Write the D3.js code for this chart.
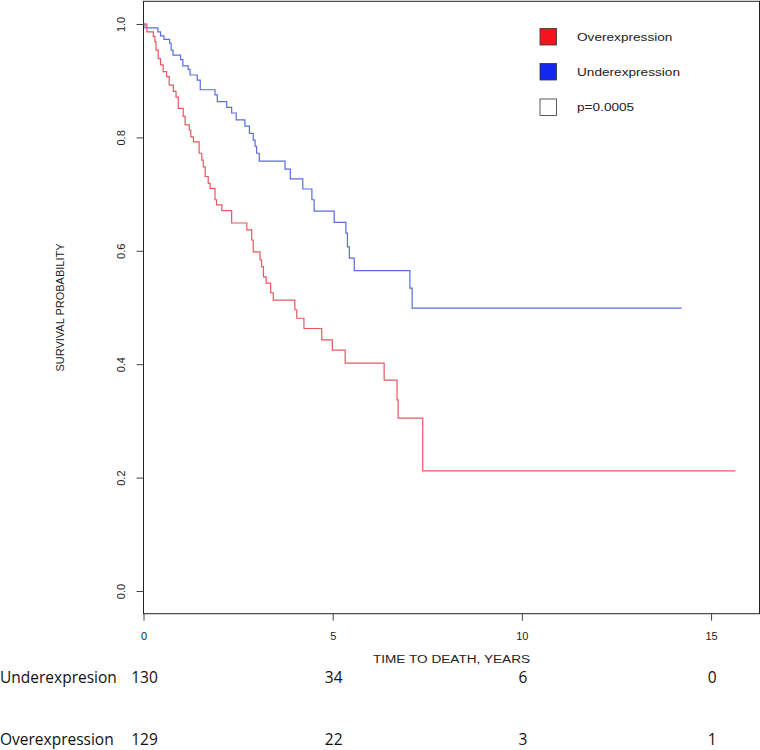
<!DOCTYPE html>
<html>
<head>
<meta charset="utf-8">
<script src="https://cdn.jsdelivr.net/npm/d3@7"></script>
<style>
  html, body { margin: 0; padding: 0; background: #fff; }
  svg { display: block; }
</style>
</head>
<body>
<svg id="chart" width="760" height="750"></svg>
<script>
// ---------- DATA ----------
// Underexpression group: event times (years) and survival after each step
const underTimes = [0.04, 0.38, 0.45, 0.54, 0.69, 0.73, 0.78, 0.98, 1.04, 1.18, 1.23, 1.42, 1.50, 1.89, 1.95, 2.20, 2.33, 2.45, 2.68, 2.80, 2.90, 2.95, 2.99, 3.06, 3.74, 3.88, 4.21, 4.45, 4.51, 5.04, 5.35, 5.39, 5.44, 5.57, 7.04, 7.10];
const underSurv  = [0.993, 0.986, 0.979, 0.973, 0.966, 0.954, 0.945, 0.937, 0.926, 0.920, 0.910, 0.901, 0.884, 0.875, 0.863, 0.853, 0.843, 0.831, 0.820, 0.807, 0.795, 0.784, 0.772, 0.758, 0.744, 0.727, 0.709, 0.690, 0.670, 0.650, 0.631, 0.607, 0.587, 0.565, 0.534, 0.499];
const underEnd = 14.22;

// Overexpression group
const overTimes = [0.09, 0.26, 0.30, 0.33, 0.39, 0.45, 0.52, 0.61, 0.68, 0.79, 0.86, 0.92, 1.05, 1.10, 1.21, 1.25, 1.32, 1.47, 1.54, 1.58, 1.63, 1.71, 1.76, 1.89, 1.93, 2.07, 2.33, 2.73, 2.86, 2.90, 3.08, 3.12, 3.17, 3.24, 3.36, 3.43, 4.00, 4.05, 4.24, 4.71, 4.99, 5.33, 6.36, 6.70, 6.73, 7.38];
const overSurv  = [0.986, 0.978, 0.969, 0.954, 0.939, 0.928, 0.916, 0.907, 0.892, 0.881, 0.871, 0.851, 0.837, 0.822, 0.813, 0.801, 0.792, 0.772, 0.760, 0.748, 0.731, 0.719, 0.710, 0.690, 0.681, 0.671, 0.649, 0.637, 0.619, 0.598, 0.584, 0.572, 0.554, 0.543, 0.526, 0.513, 0.496, 0.481, 0.463, 0.443, 0.425, 0.402, 0.372, 0.337, 0.305, 0.212];
const overEnd = 15.64;

const xTicks = [0, 5, 10, 15];
const yTicks = [0, 0.2, 0.4, 0.6, 0.8, 1.0];
const riskTimes = [0, 5, 10, 15];
const riskUnder = [130, 34, 6, 0];
const riskOver  = [129, 22, 3, 1];
const legendLabels = ["Overexpression", "Underexpression", "p=0.0005"];

// ---------- LAYOUT ----------
const svg = d3.select("#chart");
const L = 143.5, R = 759.5, T = 1.3, B = 613.7;
const x = d3.scaleLinear().domain([0, 16.28]).range([L, R]);
const y = d3.scaleLinear().domain([-0.04, 1.04]).range([B, T]);
const axisFont = "'Liberation Sans', Arial, Helvetica, sans-serif";
const tableFont = "'Open Sans', 'Noto Sans', sans-serif";
const stretch = 1.24; // reference text is widened horizontally

// Box
svg.append("rect")
  .attr("x", L).attr("y", T).attr("width", R - L).attr("height", B - T)
  .attr("fill", "none").attr("stroke", "#222").attr("stroke-width", 1);

// Y axis
const yAxis = d3.axisLeft(y).tickValues(yTicks).tickFormat(d3.format(".1f")).tickSize(7).tickPadding(4);
const gy = svg.append("g").attr("transform", `translate(${L},0)`).call(yAxis);
gy.select(".domain").remove();
gy.selectAll(".tick line").attr("stroke", "#444");
gy.selectAll(".tick text")
  .attr("font-family", axisFont).attr("font-size", 11).attr("fill", "#222")
  .attr("x", 0).attr("y", 0).attr("dy", "0.35em").attr("text-anchor", "middle")
  .attr("transform", `translate(-22,0) rotate(-90)`);

// X axis
const xAxis = d3.axisBottom(x).tickValues(xTicks).tickFormat(d3.format("d")).tickSize(7).tickPadding(12);
const gx = svg.append("g").attr("transform", `translate(0,${B})`).call(xAxis);
gx.select(".domain").remove();
gx.selectAll(".tick line").attr("stroke", "#444");
gx.selectAll(".tick text").attr("font-family", axisFont).attr("font-size", 11).attr("fill", "#222");

// Axis titles
svg.append("text")
  .attr("transform", `translate(${(L + R) / 2},659) scale(${stretch},1)`)
  .attr("dy", "0.35em")
  .attr("text-anchor", "middle").attr("font-family", axisFont).attr("font-size", 11).attr("fill", "#222")
  .text("TIME TO DEATH, YEARS");
svg.append("text")
  .attr("transform", `translate(60,${(T + B) / 2}) rotate(-90)`)
  .attr("dy", "0.35em")
  .attr("text-anchor", "middle").attr("font-family", axisFont).attr("font-size", 11).attr("fill", "#222")
  .text("SURVIVAL PROBABILITY");

// Curves
function steps(times, surv, end) {
  const pts = [[0, 1]];
  times.forEach((t, i) => pts.push([t, surv[i]]));
  pts.push([end, surv[surv.length - 1]]);
  return pts;
}
const line = d3.line().x(d => x(d[0])).y(d => y(d[1])).curve(d3.curveStepAfter);

svg.append("path").datum(steps(underTimes, underSurv, underEnd))
  .attr("d", line).attr("fill", "none").attr("stroke", "#5a6cdf").attr("stroke-width", 1.2);
svg.append("path").datum(steps(overTimes, overSurv, overEnd))
  .attr("d", line).attr("fill", "none").attr("stroke", "#e5585f").attr("stroke-width", 1.2);

// Legend
const legFill = ["#f5141e", "#1228f2", "#ffffff"];
const legY = [37, 72, 107.5];
legendLabels.forEach((lab, i) => {
  svg.append("rect").attr("x", 540).attr("y", legY[i] - 8.5).attr("width", 16.5).attr("height", 16.5)
    .attr("fill", legFill[i]).attr("stroke", "#333").attr("stroke-width", 0.8);
  svg.append("text").attr("transform", `translate(577,${legY[i]}) scale(${stretch},1)`).attr("dy", "0.35em")
    .attr("font-family", axisFont).attr("font-size", 11).attr("fill", "#222").text(lab);
});

// Numbers at risk
const rows = [["Underexpresion", riskUnder, 678], ["Overexpression", riskOver, 740]];
rows.forEach(([name, vals, yy]) => {
  svg.append("text").attr("x", 0).attr("y", yy).attr("dy", "0.35em")
    .attr("font-family", tableFont).attr("font-size", 15.5).attr("fill", "#111").text(name);
  vals.forEach((v, i) => {
    svg.append("text").attr("x", x(riskTimes[i]) + 1).attr("y", yy).attr("dy", "0.35em")
      .attr("text-anchor", "middle")
      .attr("font-family", tableFont).attr("font-size", 15.5).attr("fill", "#111").text(v);
  });
});
</script>
</body>
</html>
